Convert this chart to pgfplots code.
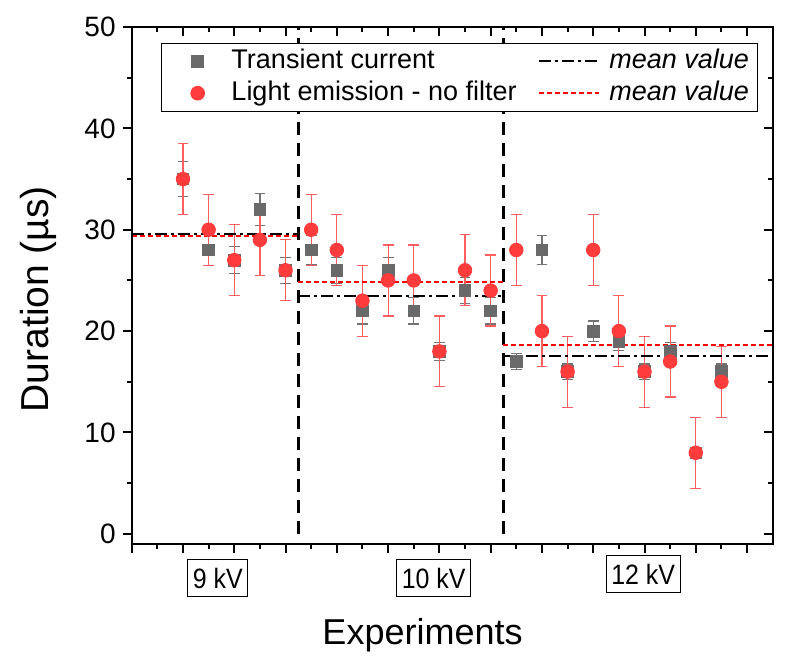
\documentclass[border=0pt]{standalone}
\usepackage{pgfplots}
\usepackage{pgfplotstable}
\pgfplotsset{compat=1.18}
\usepackage{fontspec}
\usepackage{graphicx}
\setmainfont{Liberation Sans}
\definecolor{sqgray}{RGB}{105,105,105}
\definecolor{sqerr}{RGB}{115,115,115}
\definecolor{cired}{RGB}{255,60,60}
\definecolor{cierr}{RGB}{255,95,95}

\pgfplotstableread{
x  sq  sqe   ci  cie
2  35  1.75  35  3.5
3  28  1.5   30  3.5
4  27  1.35  27  3.5
5  32  1.6   29  3.5
6  26  1.3   26  3.0
7  28  1.4   30  3.5
8  26  1.3   28  3.5
9  22  1.3   23  3.5
10 26  1.3   25  3.5
11 22  1.3   25  3.5
12 18  0.9   18  3.5
13 24  1.3   26  3.5
14 22  1.3   24  3.5
15 17  0.8   28  3.5
16 28  1.4   20  3.5
17 16  0.75  16  3.5
18 20  1.0   28  3.5
19 19  0.9   20  3.5
20 16  0.75  16  3.5
21 18  0.9   17  3.5
22 8   0.4   8   3.5
23 16  0.75  15  3.5
}\data

\begin{document}
\begin{tikzpicture}
\begin{axis}[name=main,
  scale only axis, width=320.5pt, height=258.5pt,
  xmin=0, xmax=25, ymin=-1, ymax=50,
  clip=false,
  axis line style={line width=1pt},
  xtick={0,2,...,24}, minor x tick num=1, xticklabels={},
  ytick={0,10,...,50}, minor y tick num=1,
  xtick pos=bottom, ytick pos=left, tick align=outside,
  major tick length=4.5pt, minor tick length=2.5pt,
  every tick/.style={black, line width=1pt},
  /pgf/number format/assume math mode=true,
  yticklabel style={font=\fontsize{14}{16}\selectfont},
  xlabel={Experiments}, ylabel={Duration (µs)},
  xlabel style={font=\fontsize{18}{20}\selectfont, at={(axis description cs:0.4537,-0.176)}, anchor=center},
  ylabel style={font=\fontsize{19.5}{22}\selectfont, at={(axis description cs:-0.146,0.4735)}, anchor=center},
  legend style={at={(axis description cs:0.0457,0.9696)}, anchor=north west,
    draw=black, line width=0.5pt, fill=white, inner xsep=0pt, inner ysep=1pt,
    font=\fontsize{13.5}{15}\selectfont,
    nodes={text height=9.8pt, text depth=2.8pt, inner ysep=1.7pt, inner xsep=4.5pt},
    /tikz/every even column/.append style={column sep=6.35pt}},
  legend columns=2, legend cell align=left,
]
\addlegendimage{legend image code/.code={\path (0pt,0pt) (30pt,0pt); \draw[sqgray, line width=0.5pt] plot[only marks, mark=square*, mark size=2.9pt] coordinates {(17.85pt,0pt)};}}
\addlegendentry{Transient current}
\addlegendimage{legend image code/.code={\draw[black, line width=1pt, dash pattern=on 6pt off 2pt on 1.5pt off 2pt] (0pt,0pt) -- (30pt,0pt);}}
\addlegendentry{\textit{mean value}}
\addlegendimage{legend image code/.code={\path (0pt,0pt) (30pt,0pt); \draw[cired, line width=0.5pt] plot[only marks, mark=*, mark size=3.4pt] coordinates {(17.85pt,0pt)};}}
\addlegendentry{Light emission - no filter}
\addlegendimage{legend image code/.code={\draw[red, line width=1pt, dash pattern=on 2.5pt off 1.5pt] (0pt,0pt) -- (30pt,0pt);}}
\addlegendentry{\textit{mean value}}

% vertical separators
\addplot[forget plot, black, line width=1.5pt, dash pattern=on 6.5pt off 4pt] coordinates {(6.5,0) (6.5,50)};
\addplot[forget plot, black, line width=1.5pt, dash pattern=on 6.5pt off 4pt] coordinates {(14.5,0) (14.5,50)};

% transient current
\addplot[forget plot, only marks, mark=square*, mark size=2.9pt, color=sqgray,
  error bars/.cd, y dir=both, y explicit,
  error bar style={sqerr, line width=0.6pt},
  error mark options={sqerr, rotate=90, mark size=2.7pt, line width=0.6pt}]
  table[x=x, y=sq, y error=sqe] {\data};

% light emission
\addplot[forget plot, only marks, mark=*, mark size=3.4pt, color=cired,
  error bars/.cd, y dir=both, y explicit,
  error bar style={cierr, line width=0.6pt},
  error mark options={cierr, rotate=90, mark size=2.7pt, line width=0.6pt}]
  table[x=x, y=ci, y error=cie] {\data};

% mean values
\addplot[forget plot, black, line width=1pt, dash pattern=on 6pt off 2pt on 1.5pt off 2pt] coordinates {(0,29.6) (6.5,29.6)};
\addplot[forget plot, black, line width=1pt, dash pattern=on 6pt off 2pt on 1.5pt off 2pt] coordinates {(6.5,23.5) (14.5,23.5)};
\addplot[forget plot, black, line width=1pt, dash pattern=on 6pt off 2pt on 1.5pt off 2pt] coordinates {(14.5,17.56) (25,17.56)};
\addplot[forget plot, red, line width=1pt, dash pattern=on 2.5pt off 1.5pt] coordinates {(0,29.4) (6.5,29.4)};
\addplot[forget plot, red, line width=1pt, dash pattern=on 2.5pt off 1.5pt] coordinates {(6.5,24.875) (14.5,24.875)};
\addplot[forget plot, red, line width=1pt, dash pattern=on 2.5pt off 1.5pt] coordinates {(14.5,18.67) (25,18.67)};

\node[draw, line width=0.5pt, font=\fontsize{14}{16}\selectfont, inner xsep=2.5pt, minimum height=18.3pt, yshift=-17.15pt] at (axis cs:3.36,-1) {\scalebox{0.89}[1]{9 kV}};
\node[draw, line width=0.5pt, font=\fontsize{14}{16}\selectfont, inner xsep=2.5pt, minimum height=18.3pt, yshift=-17.15pt] at (axis cs:11.78,-1) {\scalebox{0.89}[1]{10 kV}};
\node[draw, line width=0.5pt, font=\fontsize{14}{16}\selectfont, inner xsep=2.5pt, minimum height=18.3pt, yshift=-15.15pt] at (axis cs:19.95,-1) {\scalebox{0.89}[1]{12 kV}};
\end{axis}

\begin{axis}[
  scale only axis, width=320.5pt, height=258.5pt,
  xmin=0, xmax=25, ymin=-1, ymax=50,
  axis line style={line width=1pt},
  xtick={0,2,...,24}, minor x tick num=1, xticklabels={},
  ytick={0,10,...,50}, minor y tick num=1, yticklabels={},
  xtick pos=top, ytick pos=right, tick align=inside,
  major tick length=4.5pt, minor tick length=2.5pt,
  every tick/.style={black, line width=1pt},
]
\addplot[draw=none, forget plot] coordinates {(0,0)};
\end{axis}

\pgfresetboundingbox
\path[use as bounding box] ([xshift=-65.85pt,yshift=-59pt]main.south west) rectangle ([xshift=9.65pt,yshift=13.5pt]main.north east);
\end{tikzpicture}
\end{document}
